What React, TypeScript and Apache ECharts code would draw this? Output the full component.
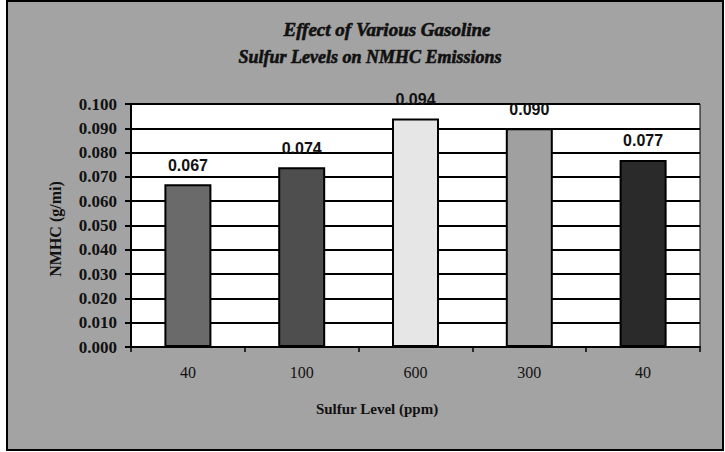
import React, { useEffect, useRef } from "react";
import * as echarts from "echarts";

const categories = ["40", "100", "600", "300", "40"];
const values = [0.067, 0.074, 0.094, 0.09, 0.077];
const barColors = ["#6a6a6a", "#4e4e4e", "#e6e6e6", "#a0a0a0", "#2a2a2a"];
const titleLines = ["Effect of Various Gasoline", "Sulfur Levels on NMHC Emissions"];
const yName = "NMHC (g/mi)";
const xName = "Sulfur Level (ppm)";

const SERIF = "'Liberation Serif', 'Times New Roman', serif";
const SANS = "'Liberation Sans', Arial, sans-serif";

export default function App() {
  const ref = useRef<HTMLDivElement>(null);
  useEffect(() => {
    if (!ref.current) return;
    const chart = echarts.init(ref.current, undefined, { renderer: "svg" });
    chart.setOption({
      animation: false,
      backgroundColor: "#ffffff",
      grid: {
        left: 131,
        right: 25,
        top: 104,
        bottom: 105,
        show: true,
        backgroundColor: "#ffffff",
        borderColor: "#000",
        borderWidth: 1,
        containLabel: false,
      },
      graphic: [
        {
          type: "rect",
          z: -10,
          shape: { x: 7, y: 1, width: 716, height: 449 },
          style: { fill: "#a3a3a3", stroke: "#000", lineWidth: 2 },
        },
        {
          type: "text",
          x: 387,
          y: 29,
          style: {
            text: titleLines[0],
            font: `italic bold 19px ${SERIF}`,
            fill: "#111",
            stroke: "#111",
            lineWidth: 0.6,
            align: "center",
            verticalAlign: "middle",
          },
        },
        {
          type: "text",
          x: 370,
          y: 57,
          style: {
            text: titleLines[1],
            font: `italic bold 18px ${SERIF}`,
            fill: "#111",
            stroke: "#111",
            lineWidth: 0.6,
            align: "center",
            verticalAlign: "middle",
          },
        },
        {
          type: "text",
          x: 55,
          y: 229,
          rotation: Math.PI / 2,
          style: {
            text: yName,
            font: `bold 16px ${SERIF}`,
            fill: "#111",
            align: "center",
            verticalAlign: "middle",
          },
        },
        {
          type: "text",
          x: 377,
          y: 409,
          style: {
            text: xName,
            font: `bold 15px ${SERIF}`,
            fill: "#111",
            align: "center",
            verticalAlign: "middle",
          },
        },
      ],
      xAxis: {
        type: "category",
        data: categories,
        axisLine: { lineStyle: { color: "#000", width: 2 } },
        axisTick: { show: true, length: 5, lineStyle: { color: "#000", width: 1.5 } },
        axisLabel: {
          margin: 17,
          color: "#111",
          fontFamily: SERIF,
          fontSize: 16,
        },
      },
      yAxis: {
        type: "value",
        min: 0,
        max: 0.1,
        interval: 0.01,
        axisLine: { show: true, lineStyle: { color: "#000", width: 2 } },
        axisTick: { show: true, length: 6, lineStyle: { color: "#000", width: 2 } },
        splitLine: { show: true, lineStyle: { color: "#000", width: 2 } },
        axisLabel: {
          margin: 14,
          color: "#111",
          fontFamily: SERIF,
          fontWeight: "bold",
          fontSize: 17,
          formatter: (v: number) => v.toFixed(3),
        },
      },
      series: [
        {
          type: "bar",
          barWidth: 47,
          data: values.map((v, i) => ({
            value: v,
            itemStyle: { color: barColors[i], borderColor: "#000", borderWidth: 2 },
          })),
          label: {
            show: true,
            position: "top",
            distance: 11,
            color: "#111",
            fontFamily: SANS,
            fontWeight: "bold",
            fontSize: 16,
            formatter: (p: any) => Number(p.value).toFixed(3),
          },
        },
      ],
    });
    return () => chart.dispose();
  }, []);
  return (
    <div
      ref={ref}
      style={{ position: "fixed", left: 0, top: 0, width: 725, height: 452 }}
    />
  );
}
